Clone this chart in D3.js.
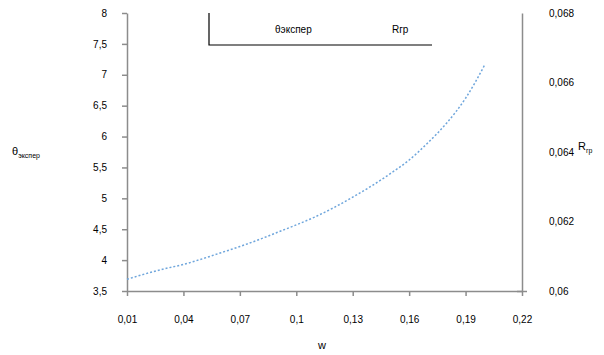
<!DOCTYPE html>
<html><head><meta charset="utf-8">
<script src="https://cdn.jsdelivr.net/npm/d3@7"></script>
<style>body{margin:0;background:#fff}svg{display:block}text{font-family:"Liberation Sans",Arial,sans-serif}</style>
</head><body>
<svg id="c" width="604" height="355"></svg>
<script>
const wValues = [0.01,0.02,0.03,0.04,0.05,0.06,0.07,0.08,0.09,0.10,0.11,0.12,0.13,0.14,0.15,0.16,0.17,0.18,0.19,0.20];
const thetaValues = [3.69,3.78,3.86,3.93,4.02,4.12,4.22,4.33,4.45,4.57,4.70,4.85,5.02,5.20,5.40,5.62,5.90,6.22,6.62,7.15];
const xTicks = [0.01,0.04,0.07,0.10,0.13,0.16,0.19,0.22];
const yLeftTicks = [3.5,4,4.5,5,5.5,6,6.5,7,7.5,8];
const yRightTicks = [0.06,0.062,0.064,0.066,0.068];
const legendLabels = ["θэкспер","Rгр"];

const svg = d3.select("#c");
const L=127,R=522,T=13,B=291;
const x = d3.scaleLinear().domain([0.01,0.22]).range([L,R]);
const yL = d3.scaleLinear().domain([3.5,8]).range([B,T]);
const yR = d3.scaleLinear().domain([0.06,0.068]).range([B,T]);
const fmt = v => String(+v.toFixed(3)).replace(".",",");
const axisColor="#8c8c8c";

function style(g){
  g.selectAll("path,line").attr("stroke",axisColor).attr("stroke-width",1.5);
  g.selectAll("text").attr("fill","#000").attr("font-size",10);
}
svg.append("g").attr("transform",`translate(0,${B})`)
  .call(d3.axisBottom(x).tickValues(xTicks).tickFormat(fmt).tickSize(5).tickSizeOuter(0).tickPadding(20))
  .call(style);
svg.append("g").attr("transform",`translate(${L},0)`)
  .call(d3.axisLeft(yL).tickValues(yLeftTicks).tickFormat(fmt).tickSize(5).tickSizeOuter(0).tickPadding(15))
  .call(style);
const gr = svg.append("g").attr("transform",`translate(${R},0)`)
  .call(d3.axisRight(yR).tickValues(yRightTicks).tickFormat(fmt).tickSize(0).tickSizeOuter(0).tickPadding(27))
  .call(style);
gr.selectAll(".tick").filter(d=>d===0.06).select("line").attr("x2",-5).attr("x1",5);
svg.selectAll(".domain").attr("stroke",axisColor).attr("stroke-width",1.5);

const line = d3.line().x((d,i)=>x(wValues[i])).y(d=>yL(d)).curve(d3.curveMonotoneX);
svg.append("path").datum(thetaValues).attr("d",line)
  .attr("fill","none").attr("stroke","#6fa6dc").attr("stroke-width",1.5).attr("stroke-dasharray","2,2");

// axis titles
const tl = svg.append("text").attr("x",12).attr("y",155).attr("font-size",11);
tl.append("tspan").text("θ");
tl.append("tspan").attr("font-size",7).attr("dy",3).text("экспер");
svg.append("text").attr("x",322).attr("y",349).attr("font-size",11).attr("text-anchor","middle").text("w");
const tr = svg.append("text").attr("x",578).attr("y",150).attr("font-size",11);
tr.append("tspan").text("R");
tr.append("tspan").attr("font-size",7).attr("dy",3).text("гр");

// legend
svg.append("path").attr("d","M209,13V45H432").attr("fill","none").attr("stroke","#000").attr("stroke-width",1.2);
svg.append("text").attr("x",275).attr("y",33).attr("font-size",10).text(legendLabels[0]);
svg.append("text").attr("x",392).attr("y",33).attr("font-size",10).text(legendLabels[1]);
</script>
</body></html>
